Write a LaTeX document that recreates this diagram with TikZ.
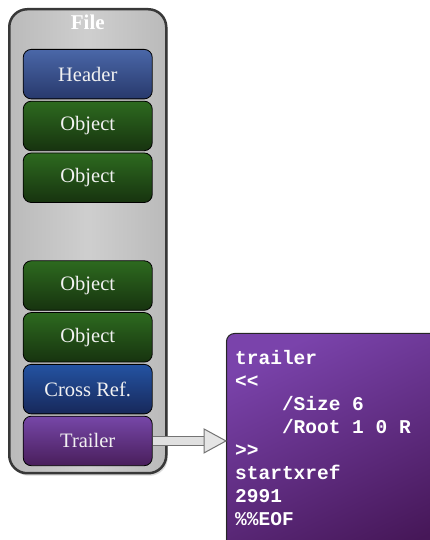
\documentclass[tikz,border=0pt]{standalone}
\usepackage{fontspec}
\setmainfont{Liberation Serif}
\setmonofont{Liberation Mono}
\usetikzlibrary{positioning,shadows,calc}

\definecolor{hdrtop}{HTML}{4A67A8}
\definecolor{hdrbot}{HTML}{28396C}
\definecolor{objtop}{HTML}{2D6A1F}
\definecolor{objbot}{HTML}{17330F}
\definecolor{xreftop}{HTML}{2453A2}
\definecolor{xrefbot}{HTML}{17285A}
\definecolor{trltop}{HTML}{7647A8}
\definecolor{trlbot}{HTML}{491E5B}
\definecolor{codetop}{HTML}{7A43AB}
\definecolor{codebot}{HTML}{461758}

\tikzset{
  filebox/.style={draw=black!78, line width=2.5pt, rounded corners=18pt,
    left color=black!27, right color=black!27, middle color=black!19,
    minimum width=157pt, minimum height=464pt,
    drop shadow={shadow xshift=1.5pt, shadow yshift=-2.5pt, opacity=0.3}},
  filetitle/.style={text=white, inner sep=0pt,
    font=\fontsize{21}{22}\selectfont\bfseries},
  part/.style={draw=black, line width=0.8pt, rounded corners=8pt,
    minimum width=129pt, minimum height=49.5pt, inner sep=0pt,
    text=white!95!black, font=\fontsize{20.5}{22}\selectfont, shading angle=15},
  hdrpart/.style={part, top color=hdrtop, bottom color=hdrbot},
  objpart/.style={part, top color=objtop, bottom color=objbot},
  xrefpart/.style={part, top color=xreftop, bottom color=xrefbot},
  trlpart/.style={part, top color=trltop, bottom color=trlbot},
  codebox/.style={draw=black!85, line width=1pt, rounded corners=8pt,
    top color=codetop, bottom color=codebot, shading angle=25,
    minimum width=230pt, minimum height=230pt,
    drop shadow={shadow xshift=-1pt, shadow yshift=-1pt, opacity=0.25}},
  codetext/.style={text=white, inner sep=0pt, align=left,
    font=\ttfamily\bfseries\fontsize{19.5}{23}\selectfont},
  arrowshaft/.style={draw=black!55, line width=1pt,
    double=black!12, double distance=8pt},
  arrowhead/.style={draw=black!55, line width=1pt, fill=black!10,
    line join=miter}
}

\begin{document}
\begin{tikzpicture}[x=1pt,y=1pt]
        \clip (0,0) rectangle (430,540);

        % file
        \node[filebox, anchor=north west] (file) at (8,532) {};
        \node[filetitle, below=7pt of file.north] (title) {File};

        % parts
        \node[hdrpart, below=41pt of file.north] (hdr) {Header};
        \node[objpart, below=1.5pt of hdr] (obja) {Object};
        \node[objpart, below=1.5pt of obja] (objb) {Object};
        \node[objpart, below=57.5pt of objb] (objc) {Object};
        \node[objpart, below=1.5pt of objc] (objd) {Object};
        \node[xrefpart, below=1.5pt of objd] (xref) {Cross Ref.};
        \node[trlpart, below=1.5pt of xref] (trl) {Trailer};

        % trailer
        \node[codebox, anchor=north west] (code) at (226,207) {};
        \node[codetext, anchor=north west] (codetxt) at ($(code.north west)+(9,-17)$)
          {trailer\\<<\\\phantom{xxxx}/Size 6\\\phantom{xxxx}/Root 1 0 R\\>>\\startxref\\2991\\\%\%EOF};

        % arrow
        \coordinate (tip) at (code.west |- trl.east);
        \coordinate (base) at ($(tip)+(-22,0)$);
        \draw[arrowshaft] (trl.east) -- (base);
        \draw[arrowhead] (tip) -- ($(base)+(0,12)$) -- ($(base)+(0,-12)$) -- cycle;
\end{tikzpicture}
\end{document}
